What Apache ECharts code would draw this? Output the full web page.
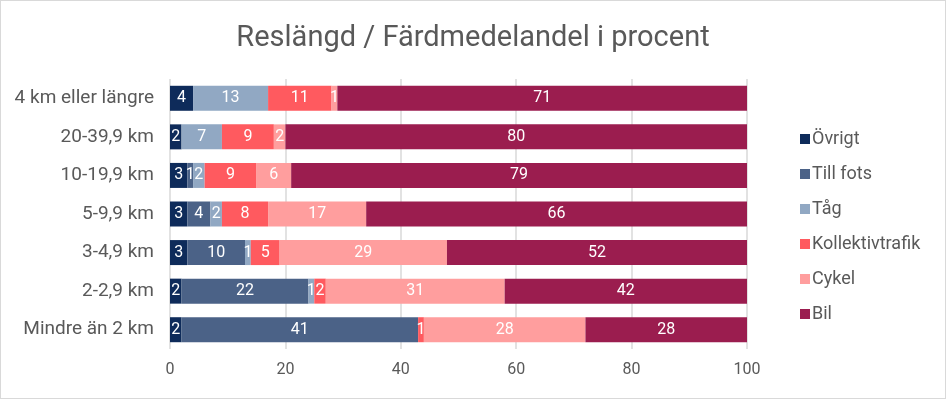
<!DOCTYPE html>
<html>
<head>
<meta charset="utf-8">
<script src="https://cdn.jsdelivr.net/npm/echarts@6/dist/echarts.min.js"></script>
<style>
  html, body { margin: 0; padding: 0; background: #fff; }
  #chart { width: 944px; height: 397px; border: 1px solid #d9d9d9; }
</style>
</head>
<body>
<div id="chart"></div>
<script>
// categories bottom -> top
const categories = ['Mindre än 2 km', '2-2,9 km', '3-4,9 km', '5-9,9 km', '10-19,9 km', '20-39,9 km', '4 km eller längre'];
const seriesNames = ['Övrigt', 'Till fots', 'Tåg', 'Kollektivtrafik', 'Cykel', 'Bil'];
const colors = ['#0e2b5a', '#4b6287', '#91a8c3', '#ff5a5f', '#ff9e9e', '#9b1d4f'];

const ovrigt = [2, 2, 3, 3, 3, 2, 4];
const tillFots = [41, 22, 10, 4, 1, 0, 0];
const tag = [0, 1, 1, 2, 2, 7, 13];
const kollektiv = [1, 2, 5, 8, 9, 9, 11];
const cykel = [28, 31, 29, 17, 6, 2, 1];
const bil = [28, 42, 52, 66, 79, 80, 71];

const values = [ovrigt, tillFots, tag, kollektiv, cykel, bil];

const chart = echarts.init(document.getElementById('chart'));
chart.setOption({
  animation: false,
  textStyle: { fontFamily: 'Roboto' },
  title: {
    text: 'Reslängd / Färdmedelandel i procent',
    left: 'center',
    top: 18,
    textStyle: { fontSize: 29, fontWeight: 'normal', color: '#595959', fontFamily: 'Roboto' }
  },
  legend: {
    orient: 'vertical',
    left: 794,
    top: 124,
    itemWidth: 10,
    itemHeight: 10,
    itemGap: 17,
    icon: 'rect',
    textStyle: { fontSize: 18, color: '#595959', padding: [0, 0, 0, -3] },
    data: seriesNames
  },
  grid: { left: 169, right: 198, top: 78, bottom: 49 },
  xAxis: {
    type: 'value',
    min: 0,
    max: 100,
    interval: 20,
    axisLine: { show: false },
    axisTick: { show: false },
    axisLabel: { fontSize: 16, color: '#595959', margin: 13 },
    splitLine: { lineStyle: { color: '#d9d9d9', width: 1.5 } }
  },
  yAxis: {
    type: 'category',
    data: categories,
    axisLine: { show: false },
    axisTick: { show: false },
    axisLabel: { fontSize: 19, color: '#595959', margin: 16 }
  },
  series: seriesNames.map((name, i) => ({
    name: name,
    type: 'bar',
    stack: 'total',
    barWidth: 25,
    itemStyle: { color: colors[i] },
    label: {
      show: true,
      color: '#fff',
      fontSize: 16,
      formatter: p => (p.value ? p.value : '')
    },
    data: values[i]
  }))
});
</script>
</body>
</html>
